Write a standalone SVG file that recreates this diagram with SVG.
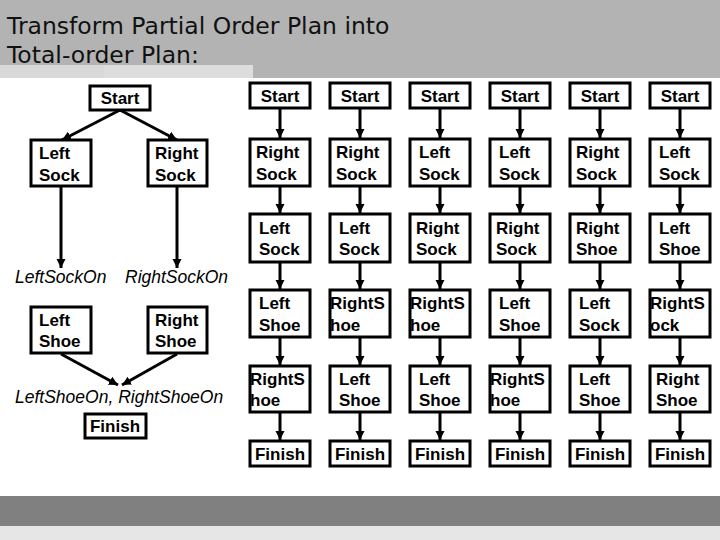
<svg xmlns="http://www.w3.org/2000/svg" width="720" height="540" viewBox="0 0 720 540">
<defs>
<marker id="ah" viewBox="0 0 10 10" refX="10" refY="5" markerWidth="3" markerHeight="3.5" orient="auto" markerUnits="strokeWidth"><path d="M0,0 L10,5 L0,10 z" fill="#000"/></marker>
</defs>
<style>
.b{fill:#fff;stroke:#000;stroke-width:3}
.t{font-family:"Liberation Sans",Arial,sans-serif;font-weight:bold;font-size:17px;fill:#000}
.m{text-anchor:middle}
.i{font-family:"Liberation Sans",Arial,sans-serif;font-style:italic;font-size:17.5px;fill:#000}
.c line{stroke:#000;stroke-width:3;marker-end:url(#ah)}
.title{font-family:"DejaVu Sans",sans-serif;font-size:23.5px;fill:#111}
</style>
<rect width="720" height="540" fill="#fff"/>
<rect width="720" height="78" fill="#b3b3b3"/>
<rect x="0" y="65" width="104" height="13" fill="#d9d9d9"/>
<rect x="104" y="65" width="149" height="13" fill="#dddddd"/>
<rect x="0" y="496" width="720" height="30" fill="#808080"/>
<rect x="0" y="526" width="720" height="14" fill="#e6e6e6"/>
<text class="title" x="7" y="34">Transform Partial Order Plan into</text>
<text class="title" x="7" y="63">Total-order Plan:</text>

<g class="c">
<line x1="120" y1="110" x2="62" y2="140"/>
<line x1="120" y1="110" x2="177" y2="140"/>
<line x1="61" y1="187" x2="61" y2="268"/>
<line x1="177" y1="187" x2="177" y2="268"/>
<line x1="61" y1="354" x2="118" y2="385"/>
<line x1="177" y1="354" x2="122" y2="385"/>
</g>

<g id="lp-start"><rect class="b" x="90" y="86" width="60" height="24"/><text class="t m" x="120" y="104">Start</text></g>
<g id="lp-ls"><rect class="b" x="31" y="140" width="60" height="46"/><text class="t" x="39" y="159">Left</text><text class="t" x="39" y="181">Sock</text></g>
<g id="lp-rs"><rect class="b" x="148" y="140" width="59" height="46"/><text class="t" x="155" y="159">Right</text><text class="t" x="155" y="181">Sock</text></g>
<text class="i" x="15" y="283">LeftSockOn</text>
<text class="i" x="125" y="283">RightSockOn</text>
<g id="lp-lsh"><rect class="b" x="31" y="307" width="60" height="46"/><text class="t" x="39" y="326">Left</text><text class="t" x="39" y="347">Shoe</text></g>
<g id="lp-rsh"><rect class="b" x="148" y="307" width="59" height="46"/><text class="t" x="155" y="326">Right</text><text class="t" x="155" y="347">Shoe</text></g>
<text class="i" x="15" y="403">LeftShoeOn, RightShoeOn</text>
<g id="lp-finish"><rect class="b" x="85" y="414" width="61" height="24"/><text class="t m" x="115" y="432">Finish</text></g>

<g class="c">
<line x1="280" y1="108" x2="280" y2="138"/><line x1="280" y1="186" x2="280" y2="213"/><line x1="280" y1="262" x2="280" y2="289"/><line x1="280" y1="337" x2="280" y2="365"/><line x1="280" y1="412" x2="280" y2="440"/>
<line x1="360" y1="108" x2="360" y2="138"/><line x1="360" y1="186" x2="360" y2="213"/><line x1="360" y1="262" x2="360" y2="289"/><line x1="360" y1="337" x2="360" y2="365"/><line x1="360" y1="412" x2="360" y2="440"/>
<line x1="440" y1="108" x2="440" y2="138"/><line x1="440" y1="186" x2="440" y2="213"/><line x1="440" y1="262" x2="440" y2="289"/><line x1="440" y1="337" x2="440" y2="365"/><line x1="440" y1="412" x2="440" y2="440"/>
<line x1="520" y1="108" x2="520" y2="138"/><line x1="520" y1="186" x2="520" y2="213"/><line x1="520" y1="262" x2="520" y2="289"/><line x1="520" y1="337" x2="520" y2="365"/><line x1="520" y1="412" x2="520" y2="440"/>
<line x1="600" y1="108" x2="600" y2="138"/><line x1="600" y1="186" x2="600" y2="213"/><line x1="600" y1="262" x2="600" y2="289"/><line x1="600" y1="337" x2="600" y2="365"/><line x1="600" y1="412" x2="600" y2="440"/>
<line x1="680" y1="108" x2="680" y2="138"/><line x1="680" y1="186" x2="680" y2="213"/><line x1="680" y1="262" x2="680" y2="289"/><line x1="680" y1="337" x2="680" y2="365"/><line x1="680" y1="412" x2="680" y2="440"/>
</g>

<!-- column 1 -->
<g id="c1-start"><rect class="b" x="250" y="83" width="60" height="25"/><text class="t m" x="280" y="102">Start</text></g>
<g id="c1-2"><rect class="b" x="250" y="139" width="60" height="47"/><text class="t" x="256" y="158">Right</text><text class="t" x="256" y="180">Sock</text></g>
<g id="c1-3"><rect class="b" x="250" y="214" width="60" height="48"/><text class="t" x="259" y="234">Left</text><text class="t" x="259" y="255">Sock</text></g>
<g id="c1-4"><rect class="b" x="250" y="290" width="60" height="47"/><text class="t" x="259" y="309">Left</text><text class="t" x="259" y="331">Shoe</text></g>
<g id="c1-5"><rect class="b" x="250" y="366" width="60" height="46"/><text class="t" x="250" y="385">RightS</text><text class="t" x="250" y="406">hoe</text></g>
<g id="c1-f"><rect class="b" x="250" y="441" width="60" height="25"/><text class="t m" x="280" y="460">Finish</text></g>
<!-- column 2 -->
<g id="c2-start"><rect class="b" x="330" y="83" width="60" height="25"/><text class="t m" x="360" y="102">Start</text></g>
<g id="c2-2"><rect class="b" x="330" y="139" width="60" height="47"/><text class="t" x="336" y="158">Right</text><text class="t" x="336" y="180">Sock</text></g>
<g id="c2-3"><rect class="b" x="330" y="214" width="60" height="48"/><text class="t" x="339" y="234">Left</text><text class="t" x="339" y="255">Sock</text></g>
<g id="c2-4"><rect class="b" x="330" y="290" width="60" height="47"/><text class="t" x="330" y="309">RightS</text><text class="t" x="330" y="331">hoe</text></g>
<g id="c2-5"><rect class="b" x="330" y="366" width="60" height="46"/><text class="t" x="339" y="385">Left</text><text class="t" x="339" y="406">Shoe</text></g>
<g id="c2-f"><rect class="b" x="330" y="441" width="60" height="25"/><text class="t m" x="360" y="460">Finish</text></g>
<!-- column 3 -->
<g id="c3-start"><rect class="b" x="410" y="83" width="60" height="25"/><text class="t m" x="440" y="102">Start</text></g>
<g id="c3-2"><rect class="b" x="410" y="139" width="60" height="47"/><text class="t" x="419" y="158">Left</text><text class="t" x="419" y="180">Sock</text></g>
<g id="c3-3"><rect class="b" x="410" y="214" width="60" height="48"/><text class="t" x="416" y="234">Right</text><text class="t" x="416" y="255">Sock</text></g>
<g id="c3-4"><rect class="b" x="410" y="290" width="60" height="47"/><text class="t" x="410" y="309">RightS</text><text class="t" x="410" y="331">hoe</text></g>
<g id="c3-5"><rect class="b" x="410" y="366" width="60" height="46"/><text class="t" x="419" y="385">Left</text><text class="t" x="419" y="406">Shoe</text></g>
<g id="c3-f"><rect class="b" x="410" y="441" width="60" height="25"/><text class="t m" x="440" y="460">Finish</text></g>
<!-- column 4 -->
<g id="c4-start"><rect class="b" x="490" y="83" width="60" height="25"/><text class="t m" x="520" y="102">Start</text></g>
<g id="c4-2"><rect class="b" x="490" y="139" width="60" height="47"/><text class="t" x="499" y="158">Left</text><text class="t" x="499" y="180">Sock</text></g>
<g id="c4-3"><rect class="b" x="490" y="214" width="60" height="48"/><text class="t" x="496" y="234">Right</text><text class="t" x="496" y="255">Sock</text></g>
<g id="c4-4"><rect class="b" x="490" y="290" width="60" height="47"/><text class="t" x="499" y="309">Left</text><text class="t" x="499" y="331">Shoe</text></g>
<g id="c4-5"><rect class="b" x="490" y="366" width="60" height="46"/><text class="t" x="490" y="385">RightS</text><text class="t" x="490" y="406">hoe</text></g>
<g id="c4-f"><rect class="b" x="490" y="441" width="60" height="25"/><text class="t m" x="520" y="460">Finish</text></g>
<!-- column 5 -->
<g id="c5-start"><rect class="b" x="570" y="83" width="60" height="25"/><text class="t m" x="600" y="102">Start</text></g>
<g id="c5-2"><rect class="b" x="570" y="139" width="60" height="47"/><text class="t" x="576" y="158">Right</text><text class="t" x="576" y="180">Sock</text></g>
<g id="c5-3"><rect class="b" x="570" y="214" width="60" height="48"/><text class="t" x="576" y="234">Right</text><text class="t" x="576" y="255">Shoe</text></g>
<g id="c5-4"><rect class="b" x="570" y="290" width="60" height="47"/><text class="t" x="579" y="309">Left</text><text class="t" x="579" y="331">Sock</text></g>
<g id="c5-5"><rect class="b" x="570" y="366" width="60" height="46"/><text class="t" x="579" y="385">Left</text><text class="t" x="579" y="406">Shoe</text></g>
<g id="c5-f"><rect class="b" x="570" y="441" width="60" height="25"/><text class="t m" x="600" y="460">Finish</text></g>
<!-- column 6 -->
<g id="c6-start"><rect class="b" x="650" y="83" width="60" height="25"/><text class="t m" x="680" y="102">Start</text></g>
<g id="c6-2"><rect class="b" x="650" y="139" width="60" height="47"/><text class="t" x="659" y="158">Left</text><text class="t" x="659" y="180">Sock</text></g>
<g id="c6-3"><rect class="b" x="650" y="214" width="60" height="48"/><text class="t" x="659" y="234">Left</text><text class="t" x="659" y="255">Shoe</text></g>
<g id="c6-4"><rect class="b" x="650" y="290" width="60" height="47"/><text class="t" x="650" y="309">RightS</text><text class="t" x="650" y="331">ock</text></g>
<g id="c6-5"><rect class="b" x="650" y="366" width="60" height="46"/><text class="t" x="656" y="385">Right</text><text class="t" x="656" y="406">Shoe</text></g>
<g id="c6-f"><rect class="b" x="650" y="441" width="60" height="25"/><text class="t m" x="680" y="460">Finish</text></g>
</svg>
